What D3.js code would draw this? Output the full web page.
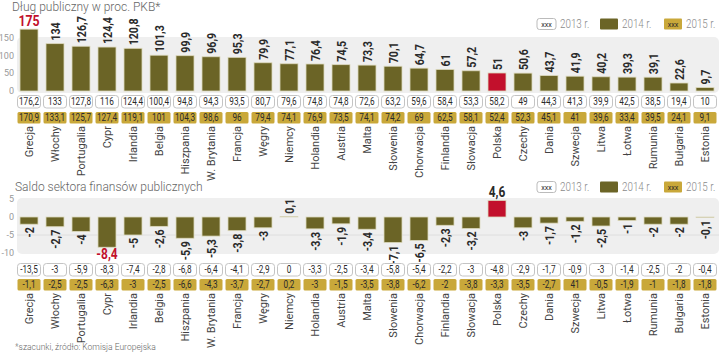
<!DOCTYPE html>
<html><head><meta charset="utf-8">
<script src="https://cdn.jsdelivr.net/npm/d3@7"></script>
<style>body{margin:0;background:#fff}svg{display:block}</style>
</head><body>
<svg id="c" width="720" height="354"></svg>
<script>
const countries = ["Grecja","Włochy","Portugalia","Cypr","Irlandia","Belgia","Hiszpania","W. Brytania","Francja","Węgry","Niemcy","Holandia","Austria","Malta","Słowenia","Chorwacja","Finlandia","Słowacja","Polska","Czechy","Dania","Szwecja","Litwa","Łotwa","Rumunia","Bułgaria","Estonia"];
const debt2013 = [176.2,133,127.8,116,124.4,100.4,94.8,94.3,93.5,80.7,79.6,74.8,74.8,72.6,63.2,59.6,58.4,53.3,58.2,49,44.3,41.3,39.9,42.5,38.5,19.4,10];
const debt2014 = [175,134,126.7,124.4,120.8,101.3,99.9,96.9,95.3,79.9,77.1,76.4,74.5,73.3,70.1,64.7,61,57.2,51,50.6,43.7,41.9,40.2,39.3,39.1,22.6,9.7];
const debt2015 = [170.9,133.1,125.7,127.4,119.1,101,104.3,98.6,96,79.4,74.1,76.9,73.5,74.1,74.2,69,62.5,58.1,52.4,52.3,45.1,41,39.6,33.4,39.5,24.1,9.1];
const bal2013 = [-13.5,-3,-5.9,-8.3,-7.4,-2.8,-6.8,-6.4,-4.1,-2.9,0,-3.3,-2.5,-3.4,-5.8,-5.4,-2.2,-3,-4.8,-2.9,-1.7,-0.9,-3,-1.4,-2.5,-2,-0.4];
const bal2014 = [-2,-2.7,-4,-8.4,-5,-2.6,-5.9,-5.3,-3.8,-3,0.1,-3.3,-1.9,-3.4,-7.1,-6.5,-2.3,-3.2,4.6,-3,-1.7,-1.2,-2.5,-1,-2,-2,-0.1];
const bal2015 = [-1.1,-2.5,-2.5,-6.3,-3,-2.5,-6.6,-4.3,-3.7,-2.7,0.2,-3,-1.5,-3.5,-3.8,-6.2,-2,-3.8,-3.3,-3.5,-2.7,41,-0.5,-1.9,-1,-1.8,-1.8];
const debtTicks = [0,50,100,150];
const balTicks = [-10,-5,0,5];
const legendLabels = ["2013 r.","2014 r.","2015 r."];

const OLIVE="#6b6426", GOLD="#c9a83a", RED="#c2102c", TXT="#2a2a2a", GREY="#8a8a8a";
const SANS="Roboto,'Liberation Sans',sans-serif";
const fmt = v => String(v).replace(".", ",");

const svg = d3.select("#c");
const x = d3.scaleBand().domain(countries).range([16,718]);
const cx = c => x(c) + x.bandwidth()/2;
const BW = 18, CW = 23;

function legend(yc){
  const g = svg.append("g");
  const lab = (xx, t, anchor, size, fill, weight, sx) =>
    g.append("text").attr("transform",`translate(${xx},${yc+(size>9?4.3:3)}) scale(${sx},1)`)
      .attr("text-anchor",anchor).attr("font-size",size).attr("font-family",SANS)
      .attr("font-weight",weight).attr("fill",fill).text(t);
  g.append("rect").attr("x",537).attr("y",yc-5.5).attr("width",19).attr("height",11).attr("rx",2.5)
    .attr("fill","#fff").attr("stroke","#bbb");
  lab(546.5,"xxx","middle",8,TXT,400,0.9);
  lab(560,legendLabels[0],"start",12,GREY,300,0.82);
  g.append("rect").attr("x",600).attr("y",yc-5.5).attr("width",18).attr("height",11).attr("rx",1).attr("fill",OLIVE);
  lab(622,legendLabels[1],"start",12,GREY,300,0.82);
  g.append("rect").attr("x",664).attr("y",yc-5.5).attr("width",18).attr("height",11).attr("rx",1).attr("fill",GOLD);
  lab(673,"xxx","middle",8,TXT,400,0.9);
  lab(686,legendLabels[2],"start",12,GREY,300,0.82);
}

function table(vals, y0, h, gold){
  const g = svg.append("g");
  g.selectAll("rect").data(countries).join("rect")
    .attr("x",c=>cx(c)-CW/2).attr("y",y0).attr("width",CW).attr("height",h).attr("rx",gold?1.5:3)
    .attr("fill",gold?GOLD:"#fff").attr("stroke",gold?"none":"#c4c4c4").attr("stroke-width",1);
  g.selectAll("text").data(countries).join("text")
    .attr("transform",c=>`translate(${cx(c)},${y0+h/2+3.7}) scale(0.78,1)`).attr("text-anchor","middle")
    .attr("font-size",10.5).attr("font-family",SANS).attr("fill",TXT)
    .text((c,i)=>fmt(vals[i]));
}

function names(yEnd){
  svg.append("g").selectAll("text").data(countries).join("text")
    .attr("transform",c=>`translate(${cx(c)+4},${yEnd}) rotate(-90)`)
    .attr("text-anchor","end").attr("font-size",11).attr("font-family",SANS).attr("fill","#444")
    .text(c=>c);
}

// ===== Top chart =====
svg.append("text").attr("x",12).attr("y",11).attr("font-size",12).attr("font-family",SANS)
  .attr("font-weight",300).attr("fill","#666").text("Dług publiczny w proc. PKB*");
legend(24);
const y1 = d3.scaleLinear().domain([0,150]).range([91,38]);
svg.append("rect").attr("x",17).attr("y",37).attr("width",702).attr("height",56).attr("rx",5).attr("fill","#efefef");
svg.append("g").selectAll("text").data(debtTicks).join("text")
  .attr("x",14).attr("y",d=>y1(d)+3).attr("text-anchor","end").attr("font-size",9)
  .attr("font-family",SANS).attr("fill","#999").text(d=>d);
svg.append("g").selectAll("rect").data(countries).join("rect")
  .attr("x",c=>cx(c)-BW/2).attr("width",BW)
  .attr("y",(c,i)=>y1(debt2014[i])).attr("height",(c,i)=>y1(0)-y1(debt2014[i]))
  .attr("fill",c=>c==="Polska"?RED:OLIVE).attr("stroke","#ddd9bd").attr("stroke-width",0.8);
svg.append("g").selectAll("text").data(countries).join("text")
  .attr("transform",(c,i)=> i===0 ? `translate(${cx(c)},${y1(debt2014[i])-3}) scale(0.85,1)` : `translate(${cx(c)+4.5},${y1(debt2014[i])-3}) rotate(-90) scale(0.85,1)`)
  .attr("text-anchor",(c,i)=>i===0?"middle":"start")
  .attr("font-size",(c,i)=>i===0?14.5:12.5).attr("font-weight","bold").attr("font-family",SANS)
  .attr("fill",(c,i)=>i===0?RED:TXT).text((c,i)=>fmt(debt2014[i]));
table(debt2013, 95.5, 12.5, false);
table(debt2015, 112, 11.5, true);
names(126);

// ===== Bottom chart =====
svg.append("text").attr("x",15).attr("y",191).attr("font-size",12).attr("font-family",SANS)
  .attr("font-weight",300).attr("fill","#666").text("Saldo sektora finansów publicznych");
legend(187);
const y2 = d3.scaleLinear().domain([-10,5]).range([253,199]);
svg.append("rect").attr("x",17).attr("y",198).attr("width",702).attr("height",56).attr("rx",5).attr("fill","#efefef");
svg.append("line").attr("x1",17).attr("x2",719).attr("y1",y2(-5)).attr("y2",y2(-5)).attr("stroke","#dedede");
svg.append("g").selectAll("text").data(balTicks).join("text")
  .attr("x",14).attr("y",d=>y2(d)+3).attr("text-anchor","end").attr("font-size",9)
  .attr("font-family",SANS).attr("fill","#999").text(d=>d);
svg.append("g").selectAll("rect").data(countries).join("rect")
  .attr("x",c=>cx(c)-BW/2).attr("width",BW)
  .attr("y",(c,i)=>y2(Math.max(0,bal2014[i]))).attr("height",(c,i)=>Math.abs(y2(bal2014[i])-y2(0)))
  .attr("fill",c=>c==="Polska"?RED:OLIVE).attr("stroke","#ddd9bd").attr("stroke-width",0.8);
svg.append("g").selectAll("text").data(countries).join("text")
  .attr("transform",(c,i)=>{
    const v=bal2014[i];
    if(c==="Cypr") return `translate(${cx(c)},${y2(v)+12}) scale(0.85,1)`;
    if(c==="Polska") return `translate(${cx(c)},${y2(v)-3}) scale(0.85,1)`;
    return v>=0 ? `translate(${cx(c)+4.5},${y2(v)-3}) rotate(-90) scale(0.85,1)` : `translate(${cx(c)+4.5},${y2(v)+3}) rotate(-90) scale(0.85,1)`;
  })
  .attr("text-anchor",(c,i)=> (c==="Cypr"||c==="Polska")?"middle":(bal2014[i]>=0?"start":"end"))
  .attr("font-size",(c)=>(c==="Cypr"||c==="Polska")?14:12.5).attr("font-weight","bold").attr("font-family",SANS)
  .attr("fill",c=>c==="Cypr"?RED:TXT).text((c,i)=>fmt(bal2014[i]));
table(bal2013, 263.5, 12.5, false);
table(bal2015, 279, 11.5, true);
names(293);

svg.append("text").attr("x",15).attr("y",350).attr("font-size",8.5).attr("font-family",SANS)
  .attr("font-weight",300).attr("fill","#666").text("*szacunki, źródło: Komisja Europejska");
</script>
</body></html>
